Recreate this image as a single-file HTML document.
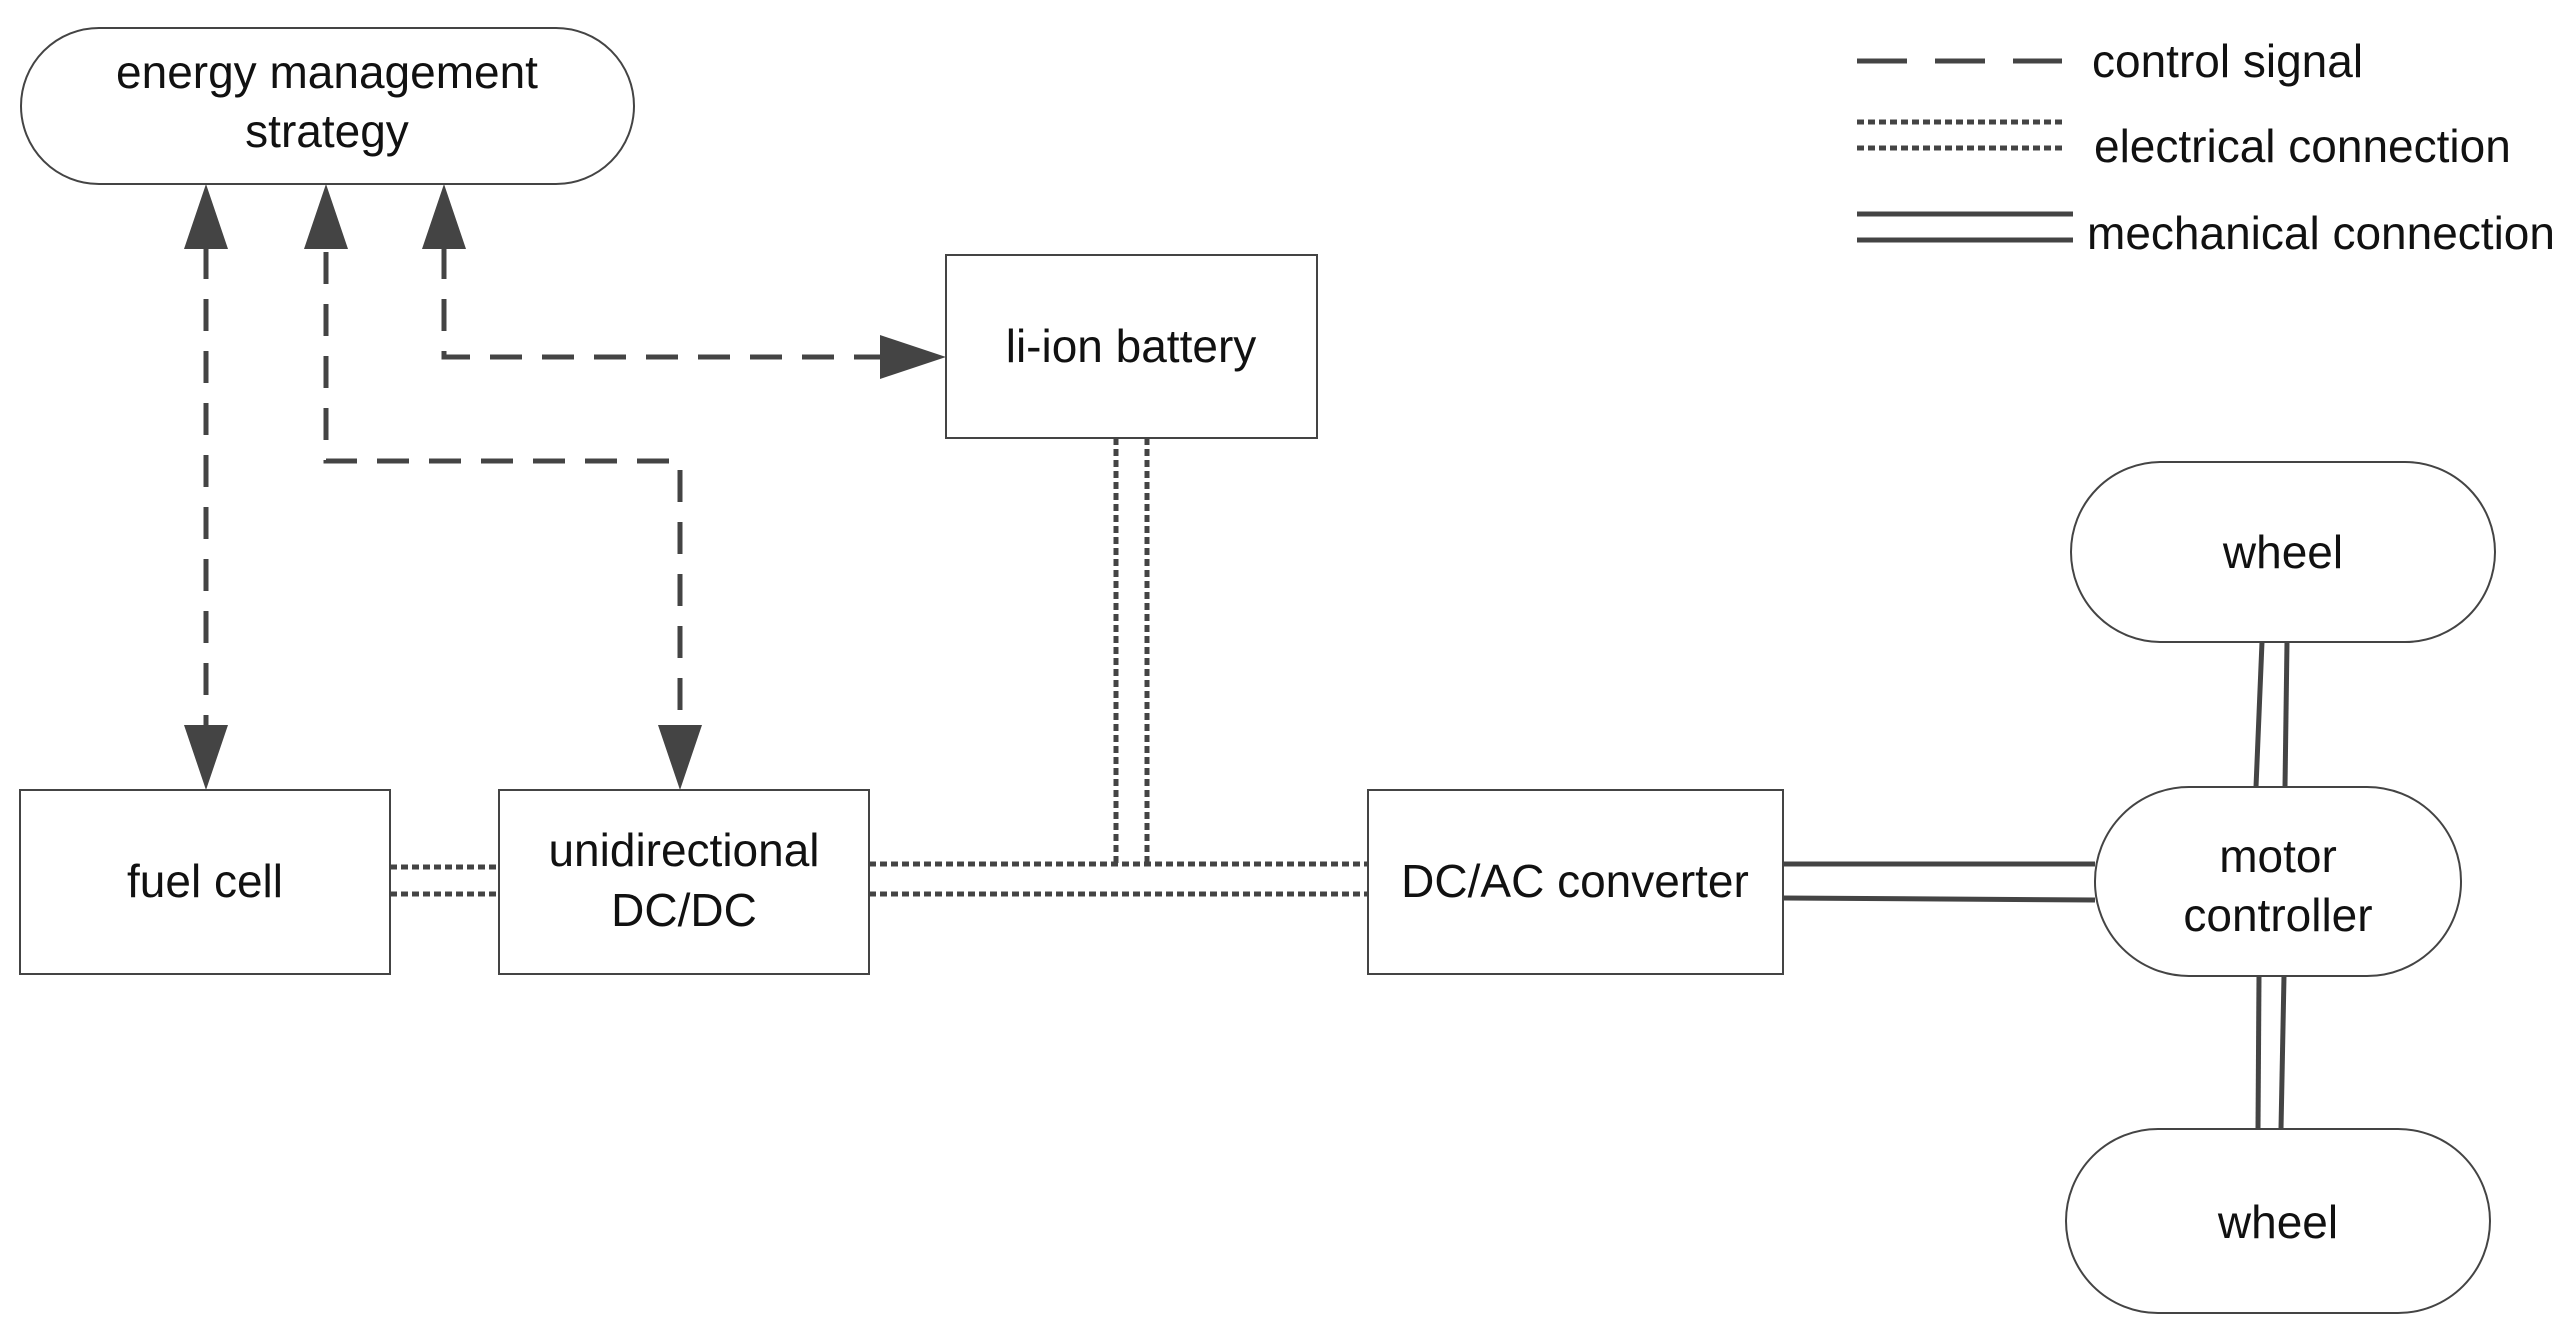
<!DOCTYPE html>
<html><head><meta charset="utf-8"><style>html,body{margin:0;padding:0;background:#fff}svg{display:block}</style></head>
<body>
<svg width="2571" height="1325" viewBox="0 0 2571 1325" xmlns="http://www.w3.org/2000/svg" font-family="Liberation Sans, sans-serif" font-size="46" fill="#111">
<g fill="none" stroke="#444" stroke-width="2">
<rect x="21" y="28" width="613" height="156" rx="78"/>
<rect x="20" y="790" width="370" height="184"/>
<rect x="499" y="790" width="370" height="184"/>
<rect x="946" y="255" width="371" height="183"/>
<rect x="1368" y="790" width="415" height="184"/>
<rect x="2095" y="787" width="366" height="189" rx="94"/>
<rect x="2071" y="462" width="424" height="180" rx="90"/>
<rect x="2066" y="1129" width="424" height="184" rx="92"/>
</g>
<g fill="none" stroke="#444" stroke-width="5" stroke-dasharray="32 20">
<line x1="206" y1="247" x2="206" y2="730"/>
<polyline points="326,252 326,461 680,461 680,730"/>
<polyline points="444,247 444,357 885,357"/>
<line x1="1857" y1="61" x2="2062" y2="61" stroke-dasharray="50 28"/>
</g>
<g fill="#444">
<polygon points="206,184 184,249 228,249"/>
<polygon points="206,790 184,725 228,725"/>
<polygon points="326,184 304,249 348,249"/>
<polygon points="444,184 422,249 466,249"/>
<polygon points="680,790 658,725 702,725"/>
<polygon points="946,357 880,335 880,379"/>
</g>
<g fill="none" stroke="#444" stroke-width="5" stroke-dasharray="7 4">
<line x1="390" y1="867" x2="499" y2="867"/>
<line x1="390" y1="894" x2="499" y2="894"/>
<line x1="869" y1="864" x2="1368" y2="864"/>
<line x1="869" y1="894" x2="1368" y2="894"/>
<line x1="1116" y1="438" x2="1116" y2="864"/>
<line x1="1147" y1="438" x2="1147" y2="864"/>
<line x1="1857" y1="122" x2="2062" y2="122"/>
<line x1="1857" y1="148" x2="2062" y2="148"/>
</g>
<g fill="none" stroke="#444" stroke-width="5">
<line x1="1783" y1="864" x2="2095" y2="864"/>
<line x1="1783" y1="898" x2="2095" y2="900"/>
<line x1="2262" y1="642" x2="2256" y2="787"/>
<line x1="2287" y1="642" x2="2285" y2="787"/>
<line x1="2259" y1="976" x2="2258" y2="1129"/>
<line x1="2284" y1="976" x2="2281" y2="1129"/>
<line x1="1857" y1="214" x2="2073" y2="214"/>
<line x1="1857" y1="240" x2="2073" y2="240"/>
</g>
<g text-anchor="middle">
<text x="327" y="88">energy management</text>
<text x="327" y="147">strategy</text>
<text x="205" y="897">fuel cell</text>
<text x="684" y="866">unidirectional</text>
<text x="684" y="926">DC/DC</text>
<text x="1131" y="362">li-ion battery</text>
<text x="1575" y="897">DC/AC converter</text>
<text x="2278" y="872">motor</text>
<text x="2278" y="931">controller</text>
<text x="2283" y="568">wheel</text>
<text x="2278" y="1238">wheel</text>
</g>
<text x="2092" y="77">control signal</text>
<text x="2094" y="162">electrical connection</text>
<text x="2087" y="249">mechanical connection</text>
</svg>
</body></html>
